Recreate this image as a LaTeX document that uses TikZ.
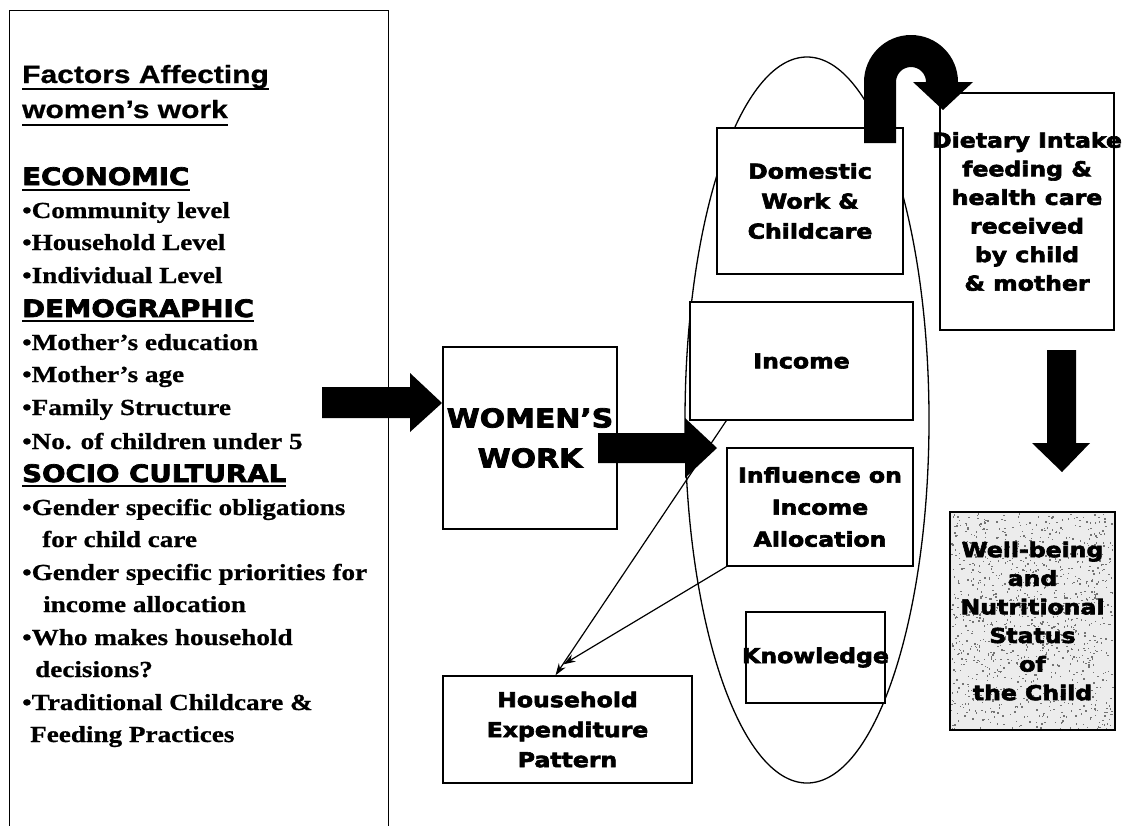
\documentclass[tikz,border=0pt]{standalone}
\usepackage{fontspec}
\usetikzlibrary{arrows.meta,calc}
\newfontfamily\boxfont{DejaVu Sans}[FakeStretch=1.15, BoldFeatures={FakeBold=3}]
\newfontfamily\headfont{Liberation Sans}[FakeStretch=1.2, BoldFeatures={FakeBold=0.8}]
\newfontfamily\listfont{Liberation Serif}[FakeStretch=1.18, BoldFeatures={FakeBold=0.7}]

\tikzset{
  box/.style={draw, fill=white, line width=1.4pt, inner sep=0pt, align=center,
    font=\boxfont\bfseries\fontsize{20.5}{30}\selectfont},
  ttl/.style={anchor=base west, inner sep=0pt, font=\headfont\bfseries\fontsize{25}{37}\selectfont},
  cat/.style={anchor=base west, inner sep=0pt, font=\boxfont\bfseries\fontsize{24}{33}\selectfont},
  item/.style={anchor=base west, inner sep=0pt, font=\listfont\bfseries\fontsize{23}{33}\selectfont},
  uline/.style={line width=2pt},
  link/.style={line width=1.2pt, -{Stealth[length=12pt,width=8pt]}}
}

\begin{document}
\begin{tikzpicture}[x=1pt, y=-1pt]
\useasboundingbox (0,0) rectangle (1123,825);

% left column: factors
\draw[line width=1pt] (9,830) -- (9,10) -- (388,10) -- (388,830);
\node[ttl] (title1) at (22,83) {Factors Affecting};
\node[ttl] (title2) at (22,118) {women’s work};
\node[cat] (econ) at (22,185) {ECONOMIC};
\node[cat] (demo) at (22,317) {DEMOGRAPHIC};
\node[cat] (socio) at (22,482) {SOCIO CULTURAL};
\foreach \n/\d in {title1/6, title2/7, econ/5, demo/4, socio/4}
  \draw[uline] ($(\n.base west)+(0,\d)$) -- ($(\n.base east)+(0,\d)$);
\foreach \x/\y/\t [count=\i] in {22/218/{•Community level}, 22/250/{•Household Level},
    22/283/{•Individual Level}, 22/350/{•Mother’s education}, 22/382/{•Mother’s age},
    22/415/{•Family Structure}, 22/449/{•No. of children under 5},
    22/515/{•Gender specific obligations}, 42/547/{for child care},
    22/580/{•Gender specific priorities for}, 43/612/{income allocation},
    22/645/{•Who makes household}, 35/677/{decisions?},
    22/710/{•Traditional Childcare \&}, 30/742/{Feeding Practices}}
  \node[item] (it\i) at (\x,\y) {\t};

% the household ellipse
\draw[line width=1.3pt] (807,420) ellipse [x radius=122, y radius=363];

% boxes
\node[box, minimum width=174pt, minimum height=182pt,
  font=\boxfont\bfseries\fontsize{26}{40}\selectfont] (women) at (530,438) {WOMEN’S\\WORK};
\node[box, minimum width=186pt, minimum height=146pt] (domestic) at (810,201) {Domestic\\Work \&\\Childcare};
\node[box, minimum width=223pt, minimum height=118pt] (income) at (801.5,361) {Income};
\node[box, minimum width=186pt, minimum height=118pt,
  font=\boxfont\bfseries\fontsize{20.5}{32}\selectfont] (influence) at (820,507)
  {\makebox[0pt]{Influence on}\\Income\\Allocation};
\node[box, minimum width=139pt, minimum height=91pt] (know) at (815.5,657.5) {\makebox[0pt]{Knowledge}};
\node[box, minimum width=249pt, minimum height=107pt] (house) at (567.5,729.5) {Household\\Expenditure\\Pattern};
\node[box, minimum width=174pt, minimum height=237pt,
  font=\boxfont\bfseries\fontsize{20.5}{28.6}\selectfont] (diet) at (1027,211.5)
  {\makebox[0pt]{Dietary Intake}\\feeding \&\\health care\\received\\by child\\\& mother};

% speckled well-being box
\fill[gray!15] (950,512) rectangle (1115,730);
\pgfmathsetseed{11}
\foreach \k in {1,...,1100}
  \fill[black!55] ({951+162*rnd},{513+216*rnd}) rectangle ++(1.4,1.4);
\node[box, fill=none, line width=2.5pt, minimum width=165pt, minimum height=218pt,
  font=\boxfont\bfseries\fontsize{20.5}{28.6}\selectfont] (well) at (1032.5,621)
  {Well-being\\and\\Nutritional\\Status\\of\\the Child};

% thin links to expenditure
\draw[link] ($(income.south west)+(37,0)$) -- ($(house.north)+(-12,0)$);
\draw[link] (influence.south west) -- ($(house.north)+(-4,-11)$);

% block arrows
\fill (322,387) -- (410,387) -- (410,373) -- (442,403) -- (410,432) -- (410,418) -- (322,418) -- cycle;
\fill (598,433) -- (685,433) -- (685,418) -- (717,448) -- (685,478) -- (685,463) -- (598,463) -- cycle;
\fill (1047,350) -- (1076,350) -- (1076,443) -- (1090,443) -- (1062,472) -- (1032,443) -- (1047,443) -- cycle;
\fill (864,143) -- (864,82) arc[start angle=180, end angle=360, radius=47] -- (973,82)
  -- (943,110) -- (913,82) -- (926,82) arc[start angle=360, end angle=180, radius=15]
  -- (896,143) -- cycle;
\end{tikzpicture}
\end{document}
